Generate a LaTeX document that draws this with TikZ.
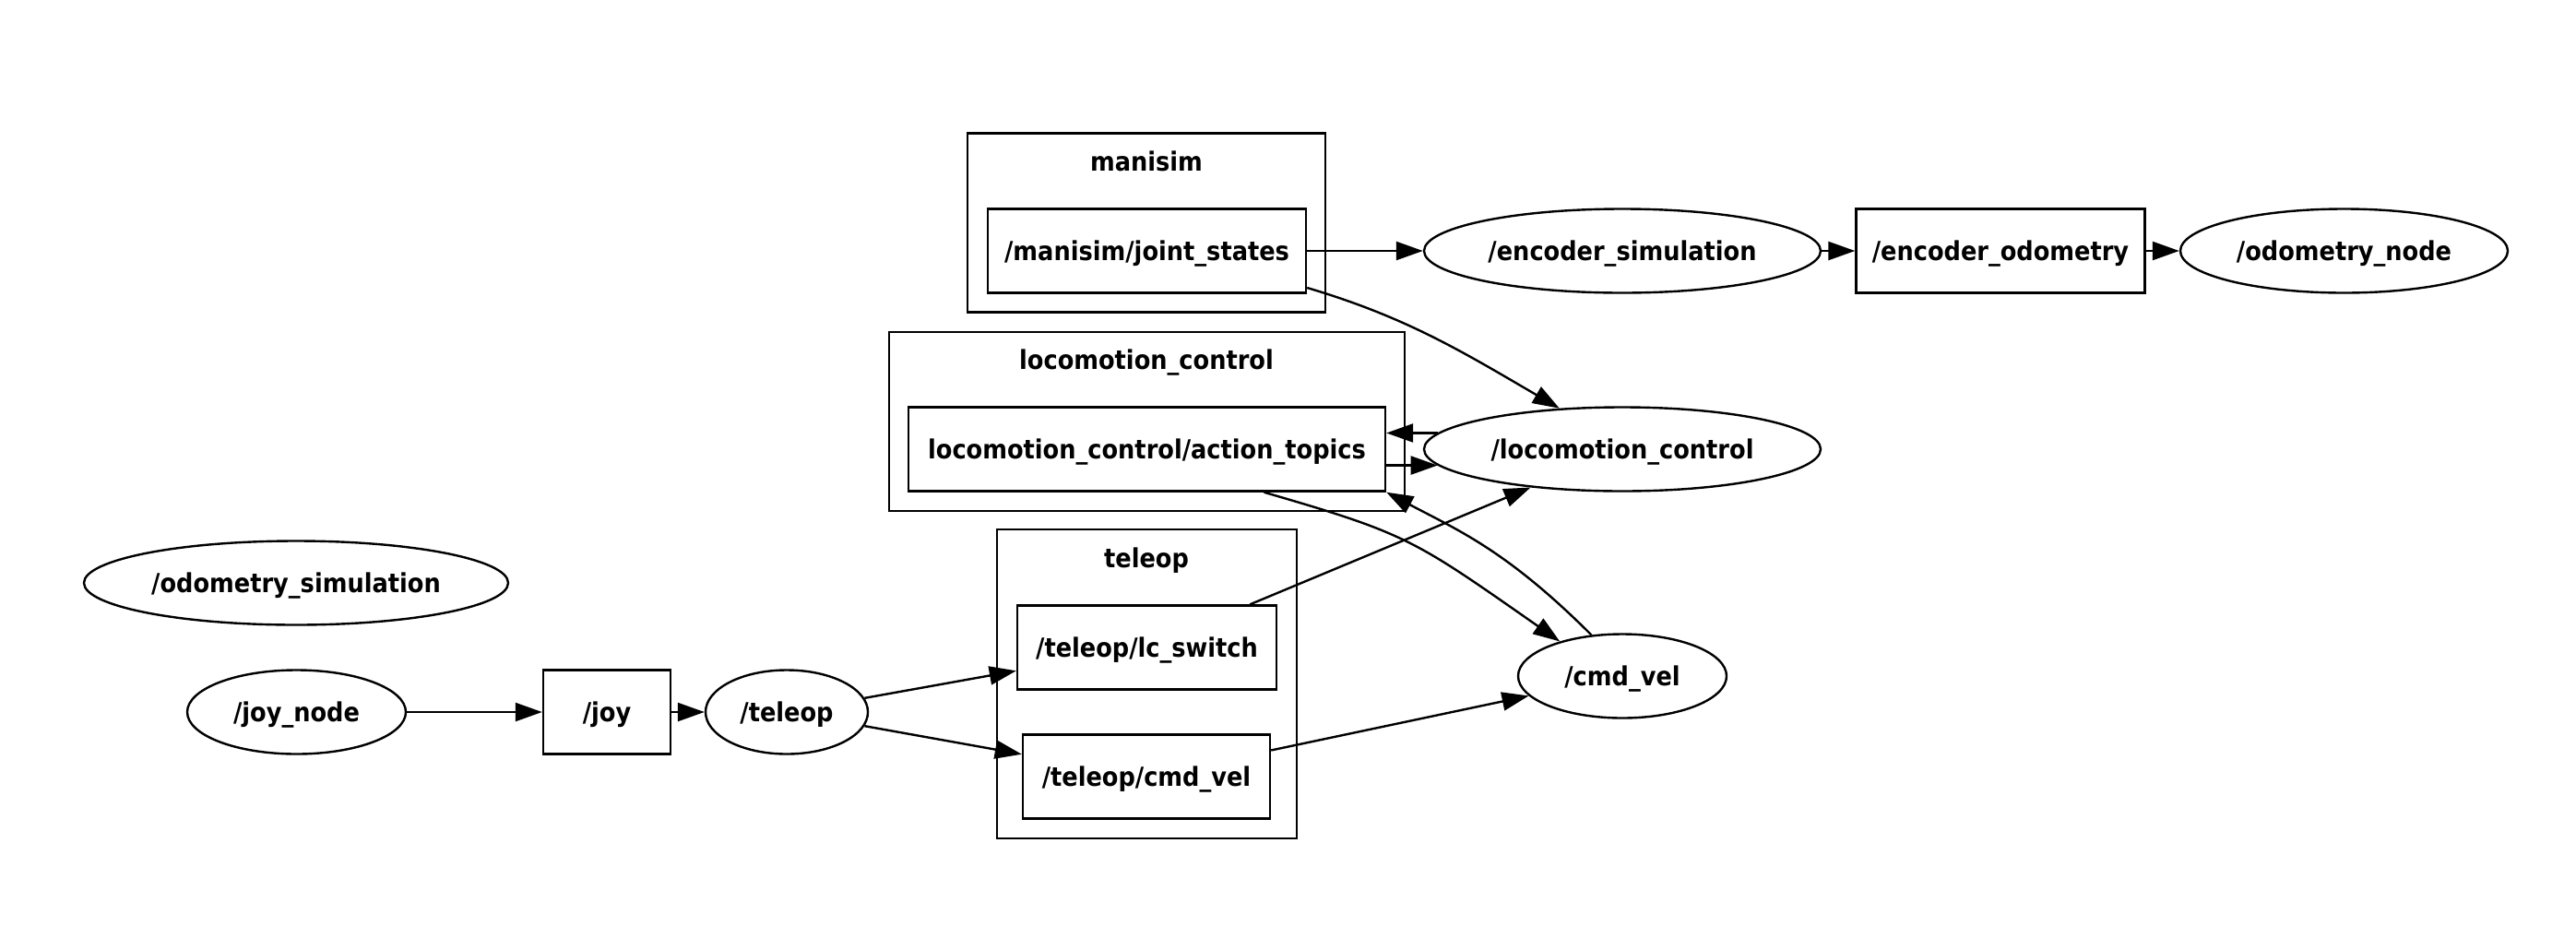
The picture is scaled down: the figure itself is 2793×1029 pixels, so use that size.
\documentclass[tikz,border=0pt]{standalone}
\usepackage{fontspec}
\setmainfont{DejaVu Sans Condensed}
\usetikzlibrary{shapes.geometric,arrows.meta,calc}
\begin{document}
\begin{tikzpicture}[x=1pt,y=-1pt,
  every node/.style={inner sep=0pt, font=\fontsize{28.5}{34}\selectfont\bfseries,
    text height=20pt, text depth=0pt},
  topic/.style={draw, rectangle, line width=2.4pt, minimum height=91pt},
  rosnode/.style={draw, ellipse, line width=2.4pt, minimum height=91pt},
  cluster/.style={draw, rectangle, line width=2.4pt},
  clabel/.style={anchor=base},
  arr/.style={line width=2.4pt, -{Triangle[length=29pt,width=20pt]}}]
\useasboundingbox (0,0) rectangle (2793,1029);

% namespace clusters
\node[cluster, minimum width=388pt, minimum height=194pt] (clmani) at (1243,241.5) {};
\node[clabel] (lblmani) at (1243,185) {manisim};
\node[cluster, minimum width=559pt, minimum height=194pt] (clloco) at (1243.5,457) {};
\node[clabel] (lblloco) at (1243,400) {locomotion\_control};
\node[cluster, minimum width=325pt, minimum height=335pt] (cltele) at (1243.5,741.5) {};
\node[clabel] (lbltele) at (1243,615) {teleop};

% topics
\node[topic, minimum width=345pt] (js) at (1243.5,272) {/manisim/joint\_states};
\node[topic, minimum width=517pt] (at) at (1243.5,487) {locomotion\_control/action\_topics};
\node[topic, minimum width=281pt] (lcs) at (1243.5,702) {/teleop/lc\_switch};
\node[topic, minimum width=268pt] (tcv) at (1243,842) {/teleop/cmd\_vel};
\node[topic, minimum width=313pt] (eo) at (2169,272) {/encoder\_odometry};
\node[topic, minimum width=138pt] (joy) at (658,772) {/joy};

% ROS nodes
\node[rosnode, minimum width=430pt] (es) at (1759,272) {/encoder\_simulation};
\node[rosnode, minimum width=355pt] (on) at (2541.5,272) {/odometry\_node};
\node[rosnode, minimum width=430pt] (lc) at (1759,487) {/locomotion\_control};
\node[rosnode, minimum width=226pt] (cv) at (1759,733) {/cmd\_vel};
\node[rosnode, minimum width=460pt] (os) at (321,632) {/odometry\_simulation};
\node[rosnode, minimum width=237pt] (jn) at (321.5,772) {/joy\_node};
\node[rosnode, minimum width=176pt] (tel) at (853,772) {/teleop};

% connections
\draw[arr] (js) -- (es);
\draw[arr] (es) -- (eo);
\draw[arr] (eo) -- (on);
\draw[arr] ($(js.east)+(0,40)$) .. controls (1525,344) and (1585,381) .. (lc.147);
\draw[arr] (lc.175) -- (lc.175 -| at.east);
\draw[arr] (lc.185 -| at.east) -- (lc.185);
\draw[arr] ($(at.south)+(127,0)$) .. controls (1527,579) and (1533,585) .. (cv.151);
\draw[arr] (cv.127) .. controls (1634,597) and (1581,575) .. (at.south east);
\draw[arr] (lcs) -- (lc);
\draw[arr] (tcv) -- (cv);
\draw[arr] (jn) -- (joy);
\draw[arr] (joy) -- (tel);
\draw[arr] (tel) -- (lcs);
\draw[arr] (tel) -- (tcv);
\end{tikzpicture}
\end{document}
